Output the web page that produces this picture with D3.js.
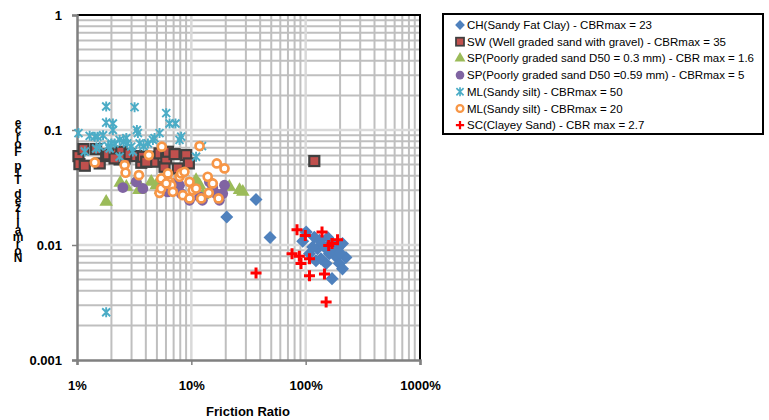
<!DOCTYPE html>
<html><head><meta charset="utf-8">
<script src="https://cdn.jsdelivr.net/npm/d3@7"></script>
<style>body{margin:0;background:#fff}svg{display:block;font-family:"Liberation Sans",Arial,sans-serif}</style>
</head><body><svg id="c" width="769" height="420"></svg>
<script>
// x = friction ratio (%), y = normalized tip force
const CH = [[20.4,0.0175],[36.8,0.0249],[48.8,0.0116],[101,0.013],[119,0.0117],[156,0.0116],[210,0.0103],[172,0.0103],[94.2,0.0108],[108,0.0084],[127,0.0093],[136,0.0076],[161,0.0084],[184,0.0079],[225,0.0078],[197,0.0069],[210,0.0062],[170,0.0051],[151,0.0069],[123,0.0073],[115,0.0096],[190,0.0093],[146,0.0096],[132,0.011],[165,0.0088],[200,0.0085]];
const SW = [[1.03,0.0593],[1.05,0.0505],[1.14,0.0683],[1.17,0.0489],[1.47,0.0683],[1.58,0.0512],[1.80,0.0593],[1.87,0.0614],[2.28,0.0626],[2.36,0.0555],[2.44,0.0647],[2.61,0.0566],[2.88,0.0617],[3.30,0.0593],[3.65,0.0519],[3.77,0.0585],[4.46,0.0585],[4.67,0.053],[5.27,0.0626],[5.83,0.0479],[6.03,0.0566],[6.24,0.0647],[7.13,0.0617],[7.62,0.0463],[9.01,0.0605],[9.51,0.0512],[119,0.0537],[2.13,0.0566],[4.03,0.053]];
const SP03 = [[1.80,0.0237],[2.39,0.0347],[3.48,0.03],[4.46,0.0354],[5.38,0.03],[6.24,0.029],[11.0,0.0366],[12.6,0.0271],[26.4,0.03],[28.2,0.029],[3.30,0.0366],[2.70,0.032],[11.8,0.0331],[4.93,0.0331],[7.13,0.032],[21.5,0.032]];
const SP059 = [[2.52,0.0316],[3.30,0.0354],[3.77,0.031],[5.64,0.032],[6.89,0.0343],[7.88,0.0331],[8.15,0.028],[9.64,0.0245],[11.8,0.0262],[15.4,0.0316],[16.5,0.028],[17.6,0.0245],[19.5,0.0331],[18.8,0.028],[14.4,0.0354],[12.5,0.0245],[6.2,0.029]];
const ML50 = [[1.03,0.094],[1.17,0.065],[1.29,0.089],[1.43,0.0875],[1.51,0.0875],[1.69,0.09],[1.80,0.16],[1.80,0.116],[2.06,0.114],[2.06,0.1],[1.87,0.0725],[2.0,0.0765],[2.13,0.0765],[2.36,0.082],[2.56,0.079],[2.70,0.085],[2.75,0.0765],[2.98,0.0716],[3.19,0.158],[3.08,0.065],[3.34,0.1],[3.41,0.094],[3.53,0.0765],[3.82,0.0725],[4.17,0.0765],[4.61,0.082],[4.77,0.085],[5.27,0.094],[6.03,0.14],[6.45,0.114],[7.27,0.114],[7.88,0.082],[8.15,0.0875],[11.0,0.0585],[12.4,0.0725],[2.36,0.0585],[1.80,0.0026],[1.47,0.069],[1.93,0.069],[1.58,0.0716]];
const ML20 = [[1.43,0.0522],[2.61,0.0495],[2.66,0.0425],[3.48,0.0405],[4.25,0.0605],[5.52,0.0716],[5.45,0.0379],[5.27,0.0284],[5.45,0.031],[6.24,0.0419],[6.45,0.0354],[6.67,0.0331],[6.89,0.029],[7.88,0.0392],[8.15,0.0419],[8.71,0.0433],[8.43,0.0271],[9.64,0.0354],[9.64,0.0254],[10.3,0.03],[11.0,0.031],[12.2,0.0254],[11.8,0.0725],[13.9,0.0392],[14.2,0.0284],[15.4,0.0343],[16.7,0.0512],[17.3,0.0254],[19.5,0.0463],[6.03,0.0343]];
const SC = [[84,0.0136],[99.3,0.0121],[139,0.013],[76,0.0084],[88,0.008],[108,0.0076],[91,0.0069],[108,0.0054],[146,0.0056],[159,0.0099],[170,0.0103],[190,0.0111],[151,0.0032],[36.8,0.0057]];
const seriesNames = ["CH(Sandy Fat Clay) - CBRmax = 23","SW (Well graded sand with gravel) - CBRmax = 35","SP(Poorly graded sand D50 = 0.3 mm) - CBR max = 1.6","SP(Poorly graded sand D50 =0.59 mm) - CBRmax = 5","ML(Sandy silt) - CBRmax = 50","ML(Sandy silt) - CBRmax = 20","SC(Clayey Sand) - CBR max = 2.7"];
const xTicks = [1,10,100,1000];
const xTickLabels = ["1%","10%","100%","1000%"];
const yTicks = [0.001,0.01,0.1,1];
const yTickLabels = ["0.001","0.01","0.1","1"];
const xTitle = "Friction Ratio";
const yTitle = "Normalized Tip Force";

const svg = d3.select("#c");
const L=77,R=420,T=15,B=360;
const x = d3.scaleLog().domain([1,1000]).range([L,R]);
const y = d3.scaleLog().domain([0.001,1]).range([B,T]);

// gridlines
const minorX=[],majorX=[],minorY=[],majorY=[];
for(let e=0;e<3;e++)for(let k=1;k<=9;k++){const v=k*Math.pow(10,e); if(v>1&&v<1000)(k===1?majorX:minorX).push(v);}
for(let e=-3;e<0;e++)for(let k=1;k<=9;k++){const v=k*Math.pow(10,e); if(v>0.001&&v<1)(k===1?majorY:minorY).push(v);}
const g=svg.append("g");
g.selectAll(".mx").data(minorX).join("line").attr("x1",d=>x(d)).attr("x2",d=>x(d)).attr("y1",T).attr("y2",B).attr("stroke","#bfbfbf").attr("stroke-width",2);
g.selectAll(".my").data(minorY).join("line").attr("y1",d=>y(d)).attr("y2",d=>y(d)).attr("x1",L).attr("x2",R).attr("stroke","#bfbfbf").attr("stroke-width",2);
g.selectAll(".Mx").data(majorX).join("line").attr("x1",d=>x(d)).attr("x2",d=>x(d)).attr("y1",T).attr("y2",B).attr("stroke","#d9d9d9").attr("stroke-width",2.5);
g.selectAll(".My").data(majorY).join("line").attr("y1",d=>y(d)).attr("y2",d=>y(d)).attr("x1",L).attr("x2",R).attr("stroke","#d9d9d9").attr("stroke-width",2.5);
// top/right border
svg.append("path").attr("d",`M${L},${T}H${R}V${B}`).attr("fill","none").attr("stroke","#000").attr("stroke-width",2);

// axes
const xa = svg.append("g").attr("transform",`translate(0,${B})`).call(d3.axisBottom(x).tickValues(xTicks).tickFormat((d,i)=>xTickLabels[i]).tickSize(5).tickPadding(16));
const ya = svg.append("g").attr("transform",`translate(${L},0)`).call(d3.axisLeft(y).tickValues(yTicks).tickFormat((d,i)=>yTickLabels[i]).tickSize(5).tickPadding(10));
[xa,ya].forEach(a=>{a.select(".domain").attr("stroke","#808080").attr("stroke-width",2.5);a.selectAll(".tick line").attr("stroke","#808080").attr("stroke-width",1.5);a.selectAll("text").attr("font-size",13).attr("font-weight","bold").attr("fill","#000").attr("font-family","Liberation Sans, Arial, sans-serif");});

svg.append("text").attr("x",248).attr("y",416).attr("text-anchor","middle").attr("font-size",13).attr("font-weight","bold").text(xTitle);
// stacked vertical y title, bottom letter first
const yt = svg.append("text").attr("font-size",12).attr("font-weight","bold").attr("text-anchor","middle");
yt.selectAll("tspan").data(yTitle.split("")).join("tspan").attr("x",18).attr("y",(d,i)=>262-i*7.1).text(d=>d);

// markers
const col={CH:"#4f81bd",SW:"#c0504d",SP03:"#9bbb59",SP059:"#8064a2",ML50:"#4bacc6",ML20:"#f79646",SC:"#ff0000"};
const painters=[
 (s,c)=>s.append("rect").attr("x",-4.6).attr("y",-4.6).attr("width",9.2).attr("height",9.2).attr("transform","rotate(45)").attr("fill",c),
 (s,c)=>s.append("rect").attr("x",-5).attr("y",-5).attr("width",10).attr("height",10).attr("fill",c).attr("stroke","#404040").attr("stroke-width",2.2),
 (s,c)=>s.append("path").attr("d",d3.symbol(d3.symbolTriangle,80)()).attr("fill",c),
 (s,c)=>s.append("circle").attr("r",5.4).attr("fill",c),
 (s,c)=>s.append("path").attr("d","M-4,-4L4,4M-4,4L4,-4M0,-5V5").attr("stroke",c).attr("stroke-width",1.9).attr("fill","none"),
 (s,c)=>s.append("circle").attr("r",4).attr("fill","#fff").attr("stroke",c).attr("stroke-width",2.7),
 (s,c)=>s.append("path").attr("d","M-5.5,0H5.5M0,-5.5V5.5").attr("stroke",c).attr("stroke-width",3).attr("fill","none")
];
const sets=[[CH,col.CH],[SW,col.SW],[SP03,col.SP03],[SP059,col.SP059],[ML50,col.ML50],[ML20,col.ML20],[SC,col.SC]];
const plot=svg.append("g");
sets.forEach(([data,c],si)=>{
  plot.append("g").selectAll("g").data(data).join("g").attr("transform",d=>`translate(${x(d[0])},${y(d[1])})`).each(function(){painters[si](d3.select(this),c);});
});

// legend
const lg=svg.append("g");
lg.append("rect").attr("x",443).attr("y",14).attr("width",320).attr("height",120).attr("fill","#fff").attr("stroke","#000").attr("stroke-width",2);
seriesNames.forEach((n,i)=>{
  const yy=25+i*16.7;
  const m=lg.append("g").attr("transform",`translate(460,${yy})`);
  const sc=[0.75,0.8,0.8,0.8,0.9,0.85,0.75][i];
  painters[i](m.append("g").attr("transform",`scale(${sc})`),sets[i][1]);
  lg.append("text").attr("x",467).attr("y",yy+4).attr("font-size",11.5).text(n);
});
</script></body></html>
